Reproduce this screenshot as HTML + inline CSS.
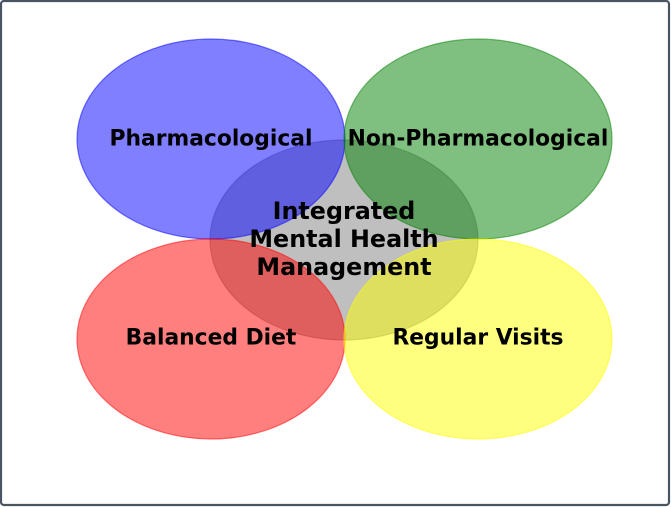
<!DOCTYPE html>
<html><head><style>
html,body{margin:0;padding:0;background:#fff;}
svg{display:block;}
text{font-family:"DejaVu Sans","Liberation Sans",sans-serif;font-weight:bold;font-size:21.8px;fill:#000;text-anchor:middle;dominant-baseline:central;}
text.c{font-size:23.8px;}
</style></head><body>
<svg width="671" height="507" viewBox="0 0 671 507">
<rect x="1" y="1" width="668" height="504" rx="3" fill="#fff" stroke="#4a5563" stroke-width="2.2"/>
<g stroke-width="1.2">
<ellipse cx="344" cy="240" rx="134" ry="100" fill="#808080" fill-opacity="0.5" stroke="#808080" stroke-opacity="0.5"/>
<ellipse cx="211" cy="139" rx="134" ry="100" fill="#0000ff" fill-opacity="0.5" stroke="#0000ff" stroke-opacity="0.5"/>
<ellipse cx="478" cy="139" rx="134" ry="100" fill="#008000" fill-opacity="0.5" stroke="#008000" stroke-opacity="0.5"/>
<ellipse cx="211" cy="339" rx="134" ry="100" fill="#ff0000" fill-opacity="0.5" stroke="#ff0000" stroke-opacity="0.5"/>
<ellipse cx="478" cy="339" rx="134" ry="100" fill="#ffff00" fill-opacity="0.5" stroke="#ffff00" stroke-opacity="0.5"/>
</g>
<text x="211" y="139">Pharmacological</text>
<text x="478" y="139">Non-Pharmacological</text>
<text x="211" y="338">Balanced Diet</text>
<text x="478" y="338">Regular Visits</text>
<text class="c" x="344" y="211">Integrated</text>
<text class="c" x="344" y="239">Mental Health</text>
<text class="c" x="344" y="267">Management</text>
</svg>
</body></html>
